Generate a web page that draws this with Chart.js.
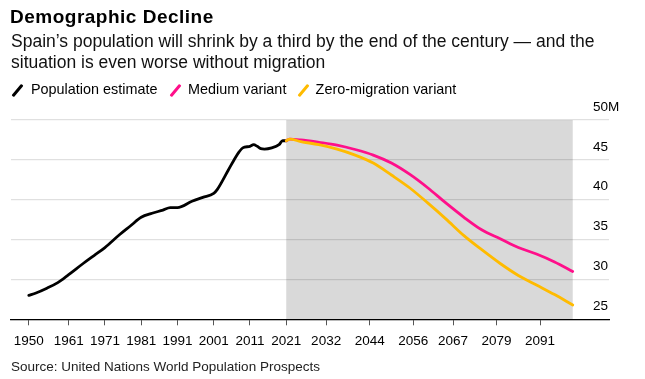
<!DOCTYPE html>
<html>
<head>
<meta charset="utf-8">
<script src="https://cdn.jsdelivr.net/npm/chart.js@4.4.1/dist/chart.umd.min.js"></script>
<style>
  html, body { margin: 0; padding: 0; background: #fff; }
  body { width: 645px; height: 379px; position: relative; overflow: hidden; font-family: "Liberation Sans", Arial, sans-serif; color: #000; }
  #wrap { position: absolute; left: 0; top: 0; width: 645px; height: 379px; }
  .t { position: absolute; white-space: nowrap; }
  #title { left: 10px; top: 5px; font-size: 19px; line-height: 24px; font-weight: bold; letter-spacing: 0.5px; }
  #sub { left: 11px; top: 30.7px; font-size: 17.5px; line-height: 21px; color: #111; }
  #legend { left: 0; top: 80.4px; font-size: 14.4px; line-height: 18px; height: 18px; width: 645px; }
  #legend .item { position: absolute; top: 0; }
  #legend .mk { position: absolute; top: 2.5px; width: 3px; height: 15px; transform: rotate(40deg); border-radius: 1px; }
  #source { left: 11px; top: 359.3px; font-size: 13.5px; line-height: 16px; color: #222; }
</style>
</head>
<body>
<div id="wrap"><canvas id="c"></canvas></div>
<div class="t" id="title">Demographic Decline</div>
<div class="t" id="sub">Spain’s population will shrink by a third by the end of the century — and the<br>situation is even worse without migration</div>
<div class="t" id="legend"></div>
<div class="t" id="source">Source: United Nations World Population Prospects</div>
<script>
// ---- data (millions) ----
const estimateYears = [1950,1952,1955,1958,1961,1965,1968,1971,1975,1978,1981,1984,1987,1989,1991,1995,1998,2001,2002,2005,2007,2008,2009,2011,2012,2013,2014,2015,2017,2019,2020,2021];
const estimateValues = [28.0,28.3,28.9,29.6,30.6,32.0,33.0,34.0,35.6,36.7,37.8,38.3,38.7,39.0,39.0,39.8,40.3,40.8,41.3,43.7,45.3,46.0,46.5,46.7,46.9,46.7,46.4,46.35,46.5,46.9,47.4,47.4];
const projYears = [2021,2022,2025,2030,2035,2040,2045,2050,2055,2060,2065,2070,2075,2080,2085,2090,2095,2100];
const mediumValues = [47.4,47.6,47.5,47.2,46.85,46.3,45.6,44.6,43.2,41.5,39.6,37.8,36.2,35.1,34.0,33.2,32.2,31.0];
const zeroMigrationValues = [47.4,47.6,47.3,46.9,46.35,45.6,44.6,43.1,41.5,39.6,37.6,35.5,33.7,32.0,30.5,29.3,28.1,26.8];
const xTickYears = [1950,1961,1971,1981,1991,2001,2011,2021,2032,2044,2056,2067,2079,2091];
const yTickValues = [25,30,35,40,45,50];
const projectionStart = 2021;
const projectionEnd = 2100;
const seriesNames = ["Population estimate","Medium variant","Zero-migration variant"];
const seriesColors = ["#000000","#ff0f8a","#ffbb00"];

// ---- legend ----
const legendPos = [[12,31],[170,188],[298,315.6]];
const lg = document.getElementById('legend');
seriesNames.forEach((n,i)=>{
  const mk = document.createElement('span');
  mk.className='mk'; mk.style.left=(legendPos[i][0]+4)+'px'; mk.style.background=seriesColors[i];
  lg.appendChild(mk);
  const tx = document.createElement('span');
  tx.className='item'; tx.style.left=legendPos[i][1]+'px'; tx.textContent=n;
  lg.appendChild(tx);
});

const toXY = (xs, ys) => xs.map((x,i)=>({x, y: ys[i]}));

const shadePlugin = {
  id: 'shade',
  beforeDraw(chart) {
    const {ctx, chartArea, scales} = chart;
    const x0 = scales.x.getPixelForValue(projectionStart);
    const x1 = scales.x.getPixelForValue(projectionEnd);
    ctx.save();
    ctx.fillStyle = '#d9d9d9';
    ctx.fillRect(x0, chartArea.top, x1 - x0, chartArea.bottom - chartArea.top);
    ctx.restore();
  }
};

const tickFont = { family: '"Liberation Sans", Arial, sans-serif', size: 13.5 };

new Chart(document.getElementById('c'), {
  type: 'line',
  data: {
    datasets: [
      { label: seriesNames[0], data: toXY(estimateYears, estimateValues), borderColor: seriesColors[0], order: 2 },
      { label: seriesNames[1], data: toXY(projYears, mediumValues), borderColor: seriesColors[1], order: 1 },
      { label: seriesNames[2], data: toXY(projYears, zeroMigrationValues), borderColor: seriesColors[2], order: 0 }
    ]
  },
  options: {
    responsive: true,
    maintainAspectRatio: false,
    animation: false,
    layout: { padding: { left: 11, top: 120, right: 0, bottom: 0 } },
    elements: {
      point: { radius: 0 },
      line: { borderWidth: 2.8, tension: 0.35, cubicInterpolationMode: 'monotone', borderCapStyle: 'round', borderJoinStyle: 'round' }
    },
    plugins: { legend: { display: false }, tooltip: { enabled: false }, title: { display: false } },
    scales: {
      x: {
        type: 'linear',
        min: 1945.1, max: 2110,
        afterBuildTicks: (s) => { s.ticks = xTickYears.map(v => ({ value: v })); },
        ticks: { autoSkip: false, maxRotation: 0, padding: 8, color: '#000', font: tickFont,
                 callback: (v) => String(v) },
        grid: { drawOnChartArea: false, drawTicks: true, tickLength: 6, color: '#555', lineWidth: 1 },
        border: { display: true, color: '#000', width: 1.2 },
        afterFit: (s) => { s.height = 59.7; }
      },
      y: {
        position: 'right',
        min: 25, max: 50,
        afterBuildTicks: (s) => { s.ticks = yTickValues.map(v => ({ value: v })); },
        ticks: { mirror: true, crossAlign: 'far', padding: 10.3, labelOffset: -13, color: '#000', font: tickFont,
                 callback: (v) => v === 50 ? '50M' : String(v) },
        grid: { drawTicks: false, color: 'rgba(0,0,0,0.12)', lineWidth: 1.3 },
        border: { display: false },
        afterFit: (s) => { s.width = 36; }
      }
    }
  },
  plugins: [shadePlugin]
});
</script>
</body>
</html>
